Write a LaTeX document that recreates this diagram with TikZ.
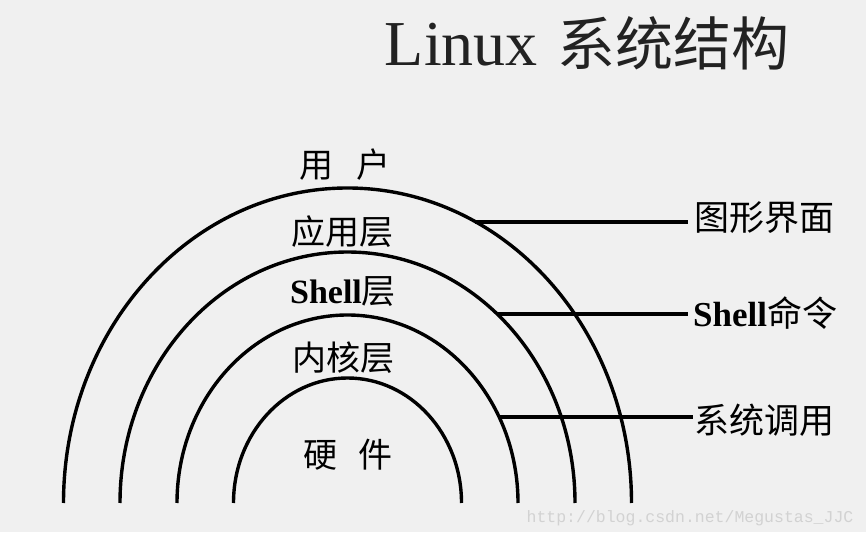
\documentclass[tikz,border=0pt]{standalone}
\usepackage{fontspec}
\setmainfont{Liberation Serif}
\setmonofont{Liberation Mono}
\newfontfamily\cjk{Noto Sans CJK SC}
\definecolor{bgc}{HTML}{F0F0F0}
\definecolor{titlec}{HTML}{222222}
\definecolor{wmc}{HTML}{D2D2D2}
\begin{document}
\begin{tikzpicture}[x=1pt,y=1pt,
  ring/.style={line width=3.4pt,black},
  lead/.style={line width=3.2pt,black},
  lbl/.style={inner sep=0pt,font=\fontsize{34}{37}\selectfont},
  rlbl/.style={inner sep=0pt,anchor=west,font=\fontsize{35}{38}\selectfont}]
\fill[bgc] (0,0) rectangle (866,532);
\useasboundingbox (0,0) rectangle (866,532);
% title
\node[inner sep=0pt,text=titlec] (title) at (587,489)
  {\fontsize{64}{70}\selectfont Linux\hspace{0.3em}{\cjk\fontsize{58}{63}\selectfont 系统结构}};
% arcs
\draw[ring] (63.5,29) arc[start angle=180,end angle=0,x radius=284,y radius=315];
\draw[ring] (120,29) arc[start angle=180,end angle=0,x radius=227.5,y radius=251];
\draw[ring] (177,29) arc[start angle=180,end angle=0,x radius=170.5,y radius=188];
\draw[ring] (233.5,29) arc[start angle=180,end angle=0,x radius=114,y radius=125];
% left labels
\node[lbl] (user) at (345,367) {\cjk 用\hspace{0.7em}户};
\node[lbl] (app) at (342,300) {\cjk 应用层};
\node[lbl] (shell) at (343,240) {\textbf{Shell}{\cjk 层}};
\node[lbl] (kernel) at (343,174) {\cjk 内核层};
\node[lbl] (hw) at (348,77) {\cjk 硬\hspace{0.6em}件};
% right labels
\node[rlbl] (gui) at (694,314) {\cjk 图形界面};
\node[rlbl] (cmd) at (693,219) {\textbf{Shell}{\cjk 命令}};
\node[rlbl] (sys) at (694,112) {\cjk 系统调用};
% connector start points on arcs
\coordinate (p1) at (475,310);
\coordinate (p2) at (497,218);
\coordinate (p3) at (499,115);
\coordinate (e1) at (688,310);
\coordinate (e2) at (688,218);
\coordinate (e3) at (693,115);
\draw[lead] (p1) -- (e1);
\draw[lead] (p2) -- (e2);
\draw[lead] (p3) -- (e3);
% watermark
\node[inner sep=0pt,text=wmc,font=\ttfamily\fontsize{16.5}{18}\selectfont] (wm) at (690,14) {http://blog.csdn.net/Megustas\_JJC};
\end{tikzpicture}
\end{document}
